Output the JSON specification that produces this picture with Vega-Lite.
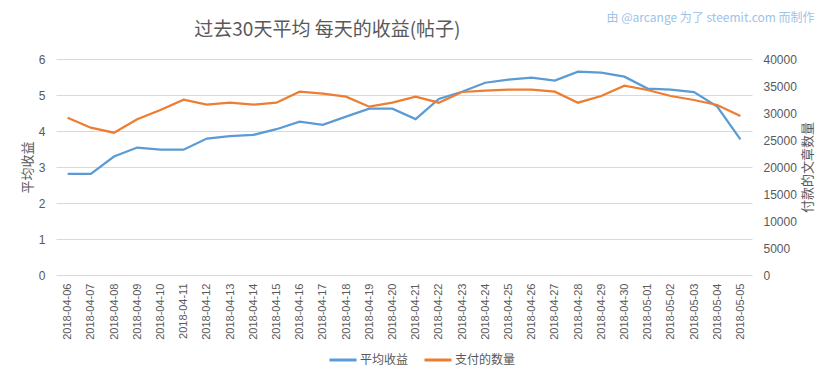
{
  "$schema": "https://vega.github.io/schema/vega-lite/v6.json",
  "width": 696,
  "height": 216,
  "autosize": {"type": "none"},
  "padding": {"left": 56, "top": 59, "right": 81, "bottom": 104},
  "background": "white",
  "title": {
    "text": "过去30天平均 每天的收益(帖子)",
    "anchor": "start",
    "dx": 173,
    "dy": 33,
    "fontSize": 19,
    "fontWeight": "normal",
    "color": "#595959",
    "font": "Noto Sans CJK SC"
  },
  "data": {
    "values": [
      {"date": "2018-04-06", "avg_payout": 2.81, "post_count": 29130},
      {"date": "2018-04-07", "avg_payout": 2.81, "post_count": 27280},
      {"date": "2018-04-08", "avg_payout": 3.29, "post_count": 26350},
      {"date": "2018-04-09", "avg_payout": 3.54, "post_count": 28830},
      {"date": "2018-04-10", "avg_payout": 3.48, "post_count": 30560},
      {"date": "2018-04-11", "avg_payout": 3.48, "post_count": 32470},
      {"date": "2018-04-12", "avg_payout": 3.79, "post_count": 31540},
      {"date": "2018-04-13", "avg_payout": 3.86, "post_count": 31910},
      {"date": "2018-04-14", "avg_payout": 3.89, "post_count": 31540},
      {"date": "2018-04-15", "avg_payout": 4.05, "post_count": 31910},
      {"date": "2018-04-16", "avg_payout": 4.26, "post_count": 33950},
      {"date": "2018-04-17", "avg_payout": 4.17, "post_count": 33580},
      {"date": "2018-04-18", "avg_payout": 4.40, "post_count": 33020},
      {"date": "2018-04-19", "avg_payout": 4.62, "post_count": 31170},
      {"date": "2018-04-20", "avg_payout": 4.62, "post_count": 31910},
      {"date": "2018-04-21", "avg_payout": 4.33, "post_count": 33020},
      {"date": "2018-04-22", "avg_payout": 4.89, "post_count": 31910},
      {"date": "2018-04-23", "avg_payout": 5.09, "post_count": 33890},
      {"date": "2018-04-24", "avg_payout": 5.34, "post_count": 34140},
      {"date": "2018-04-25", "avg_payout": 5.43, "post_count": 34310},
      {"date": "2018-04-26", "avg_payout": 5.48, "post_count": 34310},
      {"date": "2018-04-27", "avg_payout": 5.40, "post_count": 33950},
      {"date": "2018-04-28", "avg_payout": 5.65, "post_count": 31910},
      {"date": "2018-04-29", "avg_payout": 5.62, "post_count": 33150},
      {"date": "2018-04-30", "avg_payout": 5.51, "post_count": 35060},
      {"date": "2018-05-01", "avg_payout": 5.18, "post_count": 34260},
      {"date": "2018-05-02", "avg_payout": 5.15, "post_count": 33150},
      {"date": "2018-05-03", "avg_payout": 5.08, "post_count": 32410},
      {"date": "2018-05-04", "avg_payout": 4.68, "post_count": 31480},
      {"date": "2018-05-05", "avg_payout": 3.77, "post_count": 29440}
    ]
  },
  "layer": [
    {
      "mark": {"type": "line", "strokeWidth": 2.25},
      "encoding": {
        "x": {
          "field": "date",
          "type": "ordinal",
          "scale": {"type": "point", "padding": 0.5},
          "axis": {
            "title": null,
            "labelAngle": -90,
            "labelFontSize": 11,
            "labelColor": "#595959",
            "labelFont": "Liberation Sans",
            "labelPadding": 8,
            "ticks": false,
            "domain": false,
            "grid": false
          }
        },
        "y": {
          "field": "avg_payout",
          "type": "quantitative",
          "scale": {"domain": [0, 6]},
          "axis": {
            "orient": "left",
            "values": [0, 1, 2, 3, 4, 5, 6],
            "title": "平均收益",
            "titleFont": "Noto Sans CJK SC",
            "titleFontSize": 13,
            "titleFontWeight": "normal",
            "titleColor": "#595959",
            "titlePadding": 4,
            "labelFontSize": 12,
            "labelColor": "#595959",
            "labelFont": "Liberation Sans",
            "labelPadding": 11,
            "ticks": false,
            "domain": false,
            "grid": true,
            "gridColor": "#D9D9D9",
            "gridWidth": 1
          }
        },
        "color": {"datum": "平均收益", "type": "nominal"}
      }
    },
    {
      "mark": {"type": "line", "strokeWidth": 2.25},
      "encoding": {
        "x": {
          "field": "date",
          "type": "ordinal",
          "scale": {"type": "point", "padding": 0.5},
          "axis": {
            "orient": "top",
            "labels": false,
            "ticks": false,
            "domain": false,
            "grid": false,
            "title": "由 @arcange 为了 steemit.com 而制作",
            "titleFont": "Noto Sans CJK SC",
            "titleFontSize": 12,
            "titleFontWeight": "normal",
            "titleColor": "#9DC3E6",
            "titleAlign": "left",
            "titleAnchor": null,
            "titleBaseline": "top",
            "titleX": 550,
            "titleY": -47
          }
        },
        "y": {
          "field": "post_count",
          "type": "quantitative",
          "scale": {"domain": [0, 40000]},
          "axis": {
            "orient": "right",
            "values": [0, 5000, 10000, 15000, 20000, 25000, 30000, 35000, 40000],
            "format": "d",
            "title": "付款的文章数量",
            "titleAngle": 270,
            "titleBaseline": "top",
            "titleFont": "Noto Sans CJK SC",
            "titleFontSize": 13,
            "titleFontWeight": "normal",
            "titleColor": "#595959",
            "titlePadding": 5,
            "labelFontSize": 12,
            "labelColor": "#595959",
            "labelFont": "Liberation Sans",
            "labelPadding": 11,
            "ticks": false,
            "domain": false,
            "grid": false
          }
        },
        "color": {"datum": "支付的数量", "type": "nominal"}
      }
    }
  ],
  "resolve": {
    "scale": {"y": "independent"},
    "axis": {"x": "independent", "y": "independent"}
  },
  "config": {
    "view": {"stroke": null},
    "range": {"category": ["#5B9BD5", "#ED7D31"]},
    "legend": {
      "orient": "none",
      "legendX": 272,
      "legendY": 286,
      "direction": "horizontal",
      "title": null,
      "symbolType": "stroke",
      "symbolSize": 729,
      "symbolStrokeWidth": 3,
      "labelFontSize": 12,
      "labelFont": "Noto Sans CJK SC",
      "labelColor": "#595959",
      "columnPadding": 9,
      "labelOffset": 2
    }
  }
}
